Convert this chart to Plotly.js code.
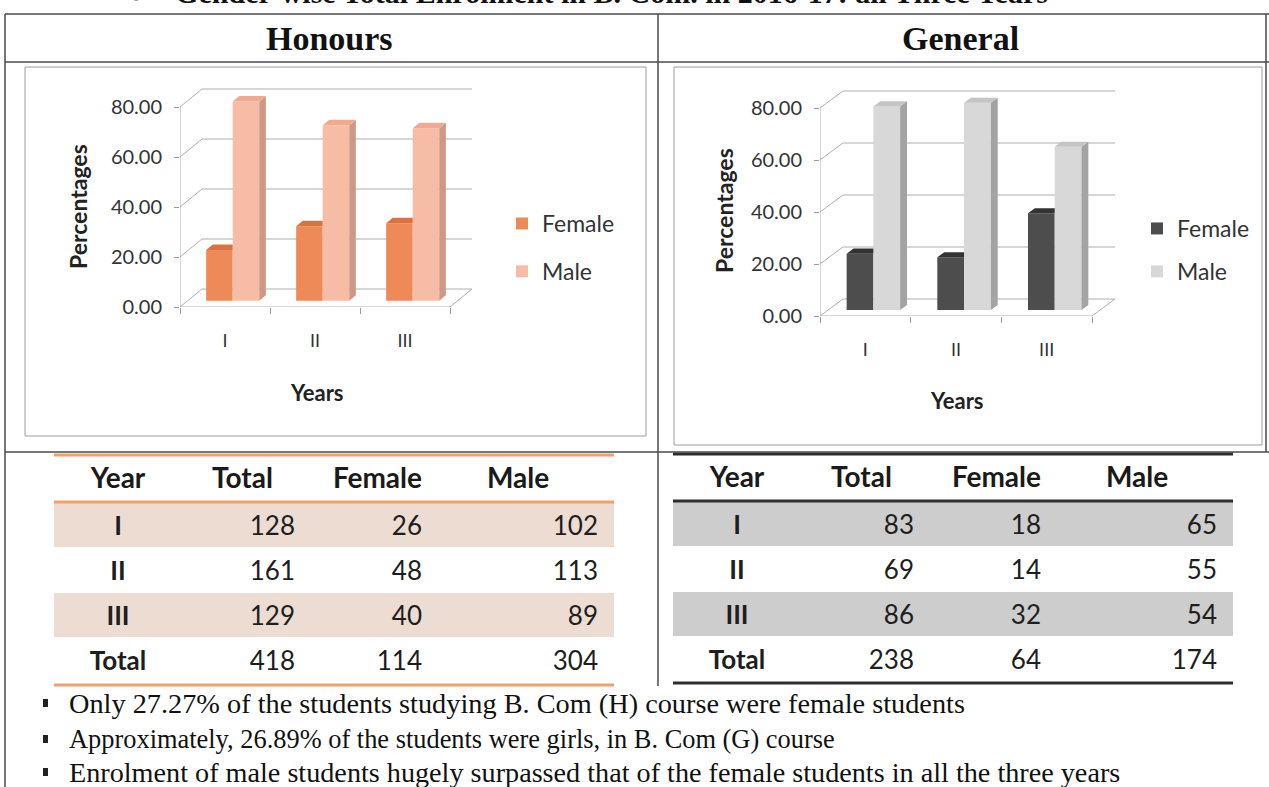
<!DOCTYPE html>
<html><head><meta charset="utf-8">
<script src="https://cdn.plot.ly/plotly-3.0.1.min.js"></script>
<style>html,body{margin:0;padding:0;background:#fff;overflow:hidden}#chart{width:1269px;height:787px}</style>
</head><body><div id="chart"></div>
<script>
// ---------------- data ----------------
const years = ['I', 'II', 'III'];
const yTicks = [0, 20, 40, 60, 80];
const seriesNames = ['Female', 'Male'];
const honFemalePct = [20.31, 29.81, 31.01];
const honMalePct = [79.69, 70.19, 68.99];
const genFemalePct = [21.69, 20.29, 37.21];
const genMalePct = [78.31, 79.71, 62.79];
const tableHeader = ['Year', 'Total', 'Female', 'Male'];
const tableRowLabels = ['I', 'II', 'III', 'Total'];
const honTotal = [128, 161, 129, 418];
const honFemale = [26, 48, 40, 114];
const honMale = [102, 113, 89, 304];
const genTotal = [83, 69, 86, 238];
const genFemale = [18, 14, 32, 64];
const genMale = [65, 55, 54, 174];
const panelTitles = ['Honours', 'General'];
const pageTitle = '\u25CB\u00A0\u00A0\u00A0\u00A0Gender-wise Total Enrolment in B. Com. in 2016-17: all Three Years';
const notes = [
  'Only 27.27% of the students studying B. Com (H) course were female students',
  'Approximately, 26.89% of the students were girls, in B. Com (G) course',
  'Enrolment of male students hugely surpassed that of the female students in all the three years'
];

// ---------------- helpers ----------------
const W = 1269, H = 787;
const X = p => p / W, Y = p => 1 - p / H;
const SANS = 'Lato, "Open Sans", sans-serif';
const SERIF = '"Liberation Serif", "Times New Roman", serif';

const charts = [
  { xa: 'x', ya: 'y', legend: 'legend', fx: 180, fy: 307, catW: 90, ppu: 2.5, dX: 22, dY: 18, yMax: 88,
    female: honFemalePct, male: honMalePct,
    col: { fFront: '#ee8a57', fTop: '#d8743f', mFront: '#f6bca5', mSide: '#cf9886', mTop: '#f1aa8f' },
    yTitle: [78, 207], xTitle: [317, 392], legendPos: [502, 202], legendGap: 15, box: [25, 67, 646, 436] },
  { xa: 'x2', ya: 'y2', legend: 'legend2', fx: 820, fy: 316, catW: 90.67, ppu: 2.6, dX: 23, dY: 17, yMax: 88,
    female: genFemalePct, male: genMalePct,
    col: { fFront: '#4d4d4d', fTop: '#333333', mFront: '#d8d8d8', mSide: '#a3a3a3', mTop: '#c4c4c4' },
    yTitle: [724, 211], xTitle: [957, 400], legendPos: [1137, 207], legendGap: 10, box: [674, 67, 1262, 445] }
];

const traces = [], shapes = [], annotations = [];
const layout = {
  width: W, height: H, margin: { l: 0, r: 0, t: 0, b: 0 },
  paper_bgcolor: '#ffffff', plot_bgcolor: 'rgba(0,0,0,0)',
  font: { family: SANS, color: '#222' }, showlegend: true,
  shapes: shapes, annotations: annotations
};

const nCat = years.length;
const catIdx = years.map((_, i) => i);

charts.forEach((c, ci) => {
  const dxu = c.dX / c.catW, dyu = c.dY / c.ppu;
  const xmin = -0.5, xEnd = nCat - 0.5, xmax = xEnd + dxu + 0.04;
  const axSuffix = ci === 0 ? '' : '2';
  layout['xaxis' + axSuffix] = {
    domain: [X(c.fx), X(c.fx + (xmax - xmin) * c.catW)], range: [xmin, xmax], anchor: c.ya,
    tickmode: 'array', tickvals: catIdx, ticktext: years, ticks: '', showgrid: false, zeroline: false,
    showline: false, tickfont: { size: 18, color: '#333', family: SANS }, ticklabelstandoff: 21, fixedrange: true,
    minor: { tickmode: 'array', tickvals: catIdx.map(i => i - 0.5).concat([xEnd]), ticks: 'outside', ticklen: 6, tickcolor: '#9a9a9a', tickwidth: 1, showgrid: false }
  };
  layout['yaxis' + axSuffix] = {
    domain: [Y(c.fy), Y(c.fy - c.yMax * c.ppu)], range: [0, c.yMax], anchor: c.xa,
    tickmode: 'array', tickvals: yTicks, tickformat: '.2f', ticks: 'outside', ticklen: 5, tickcolor: '#9a9a9a',
    showgrid: false, zeroline: false, showline: false, tickfont: { size: 20, color: '#333', family: SANS },
    ticklabelstandoff: 8, fixedrange: true
  };
  // 3D walls
  const g = { color: '#aeaeae', width: 1 };
  yTicks.forEach(v => {
    shapes.push({ type: 'line', xref: c.xa, yref: c.ya, x0: xmin + dxu, x1: xEnd + dxu, y0: v + dyu, y1: v + dyu, line: g, layer: 'below' });
    shapes.push({ type: 'line', xref: c.xa, yref: c.ya, x0: xmin, x1: xmin + dxu, y0: v, y1: v + dyu, line: g, layer: 'below' });
  });
  shapes.push({ type: 'line', xref: c.xa, yref: c.ya, x0: xmin, x1: xmin, y0: 0, y1: yTicks[yTicks.length - 1], line: g, layer: 'below' });
  shapes.push({ type: 'line', xref: c.xa, yref: c.ya, x0: xmin, x1: xEnd, y0: 0, y1: 0, line: g, layer: 'below' });
  shapes.push({ type: 'line', xref: c.xa, yref: c.ya, x0: xEnd, x1: xEnd + dxu, y0: 0, y1: dyu, line: g, layer: 'below' });

  // bars: front faces as bars; sides/tops as filled polygons
  const f0 = 0.35, fd = 0.3, bw = 0.295;
  const base = f0 * dyu, sx = f0 * dxu, bdx = fd * dxu, bdy = fd * dyu;
  const fTopX = [], fTopY = [], mSideX = [], mSideY = [], mTopX = [], mTopY = [];
  catIdx.forEach(i => {
    const x0 = i - bw + sx, x1 = i + sx, x2 = i + bw + sx;
    const tf = base + c.female[i], tm = base + c.male[i];
    fTopX.push(x0, x0 + bdx, x1, x1, x0, null); fTopY.push(tf, tf + bdy, tf + bdy, tf, tf, null);
    mSideX.push(x2, x2 + bdx, x2 + bdx, x2, x2, null); mSideY.push(base, base + bdy, tm + bdy, tm, base, null);
    mTopX.push(x1, x1 + bdx, x2 + bdx, x2, x1, null); mTopY.push(tm, tm + bdy, tm + bdy, tm, tm, null);
  });
  const poly = (xs, ys, color) => ({ type: 'scatter', mode: 'lines', x: xs, y: ys, fill: 'toself', fillcolor: color,
    line: { width: 0, color: color }, xaxis: c.xa, yaxis: c.ya, showlegend: false, hoverinfo: 'skip' });
  traces.push({ type: 'bar', name: seriesNames[0], x: catIdx, y: c.female, base: catIdx.map(() => base), width: bw, offset: -bw + sx,
    marker: { color: c.col.fFront, line: { width: 0 } }, xaxis: c.xa, yaxis: c.ya, legend: c.legend, legendgroup: 'f' + ci });
  traces.push({ type: 'bar', name: seriesNames[1], x: catIdx, y: c.male, base: catIdx.map(() => base), width: bw, offset: sx,
    marker: { color: c.col.mFront, line: { width: 0 } }, xaxis: c.xa, yaxis: c.ya, legend: c.legend, legendgroup: 'm' + ci });
  traces.push(poly(fTopX, fTopY, c.col.fTop));
  traces.push(poly(mSideX, mSideY, c.col.mSide));
  traces.push(poly(mTopX, mTopY, c.col.mTop));

  layout[c.legend] = { x: X(c.legendPos[0]), xanchor: 'left', y: Y(c.legendPos[1]), yanchor: 'top',
    font: { size: 23, color: '#333', family: SANS }, traceorder: 'grouped', tracegroupgap: c.legendGap, bgcolor: 'rgba(0,0,0,0)' };

  annotations.push({ xref: 'paper', yref: 'paper', x: X(c.yTitle[0]), y: Y(c.yTitle[1]), text: '<b>Percentages</b>', textangle: -90,
    showarrow: false, font: { size: 23, color: '#222', family: SANS }, xanchor: 'center', yanchor: 'middle' });
  annotations.push({ xref: 'paper', yref: 'paper', x: X(c.xTitle[0]), y: Y(c.xTitle[1]), text: '<b>Years</b>',
    showarrow: false, font: { size: 22, color: '#222', family: SANS }, xanchor: 'center', yanchor: 'middle' });
  shapes.push({ type: 'rect', xref: 'paper', yref: 'paper', x0: X(c.box[0]), x1: X(c.box[2]), y0: Y(c.box[3]), y1: Y(c.box[1]),
    line: { color: '#9c9c9c', width: 1 }, layer: 'below' });
});

// ---------------- tables ----------------
const tables = [
  { x0: 54, x1: 606, lineX1: 614, top: 454, total: honTotal, female: honFemale, male: honMale, band: '#eddcd2', rule: '#f0a06e', ruleYs: [455, 502, 685] },
  { x0: 673, x1: 1225, lineX1: 1233, top: 453, total: genTotal, female: genFemale, male: genMale, band: '#cdcdcd', rule: '#2e2e2e', ruleYs: [454, 501, 683] }
];
const colW = [128, 121, 127, 176];
const headH = 48, rowH = 45, textShift = 5;
tables.forEach(t => {
  // banded rows (I and III) behind the table
  tableRowLabels.forEach((_, r) => {
    if (r % 2 === 0) shapes.push({ type: 'rect', xref: 'paper', yref: 'paper', x0: X(t.x0), x1: X(t.lineX1),
      y0: Y(t.top + headH + rowH * (r + 1)), y1: Y(t.top + headH + rowH * r + 1), fillcolor: t.band, line: { width: 0 }, layer: 'below' });
  });
  const top = t.top + textShift;
  traces.push({
    type: 'table', domain: { x: [X(t.x0), X(t.x1)], y: [Y(top + headH + rowH * 4 + 4), Y(top)] },
    columnwidth: colW,
    header: { values: tableHeader, height: headH, align: ['center', 'center', 'right', 'center'],
      fill: { color: 'rgba(0,0,0,0)' }, line: { width: 0, color: 'rgba(0,0,0,0)' },
      font: { size: 28, color: '#1a1a1a', family: SANS, weight: 'bold' } },
    cells: { values: [tableRowLabels, t.total, t.female, t.male], height: rowH,
      align: ['center', 'right', 'right', 'right'], fill: { color: 'rgba(0,0,0,0)' },
      line: { width: 0, color: 'rgba(0,0,0,0)' },
      font: { size: 26, color: '#1e1e1e', family: SANS, weight: ['bold', 'normal', 'normal', 'normal'] } }
  });
  t.ruleYs.forEach(yy => shapes.push({ type: 'line', xref: 'paper', yref: 'paper', x0: X(t.x0), x1: X(t.lineX1), y0: Y(yy), y1: Y(yy),
    line: { color: t.rule, width: 3 } }));
});

// ---------------- page frame & texts ----------------
const frame = { color: '#4a4a4a', width: 1.5 };
const L = (x0, y0, x1, y1) => shapes.push({ type: 'line', xref: 'paper', yref: 'paper', x0: X(x0), x1: X(x1), y0: Y(y0), y1: Y(y1), line: frame });
L(5, 14, 1269, 14); L(5, 14, 5, 787); L(658, 14, 658, 686); L(5, 62, 1269, 62); L(5, 452, 1269, 452); L(1266, 14, 1266, 452);

annotations.push({ xref: 'paper', yref: 'paper', x: X(125), y: Y(11), xanchor: 'left', yanchor: 'bottom', showarrow: false,
  text: '<b>' + pageTitle + '</b>', font: { size: 30, family: SERIF, color: '#111' } });
[329, 960].forEach((cx, i) => annotations.push({ xref: 'paper', yref: 'paper', x: X(cx), y: Y(38), xanchor: 'center', yanchor: 'middle',
  showarrow: false, text: '<b>' + panelTitles[i] + '</b>', font: { size: 34, family: SERIF, color: '#111' } }));

const noteY = [703, 739, 772], noteSize = [28.3, 26.4, 28.2];
notes.forEach((n, i) => {
  annotations.push({ xref: 'paper', yref: 'paper', x: X(67), y: Y(noteY[i]), xanchor: 'left', yanchor: 'middle', showarrow: false,
    text: n, font: { size: noteSize[i], family: SERIF, color: '#111' } });
  shapes.push({ type: 'rect', xref: 'paper', yref: 'paper', x0: X(43), x1: X(48), y0: Y(noteY[i] + 4), y1: Y(noteY[i] - 4),
    fillcolor: '#222', line: { width: 0 } });
});

Plotly.newPlot('chart', traces, layout, { staticPlot: true, displayModeBar: false });
</script></body></html>
